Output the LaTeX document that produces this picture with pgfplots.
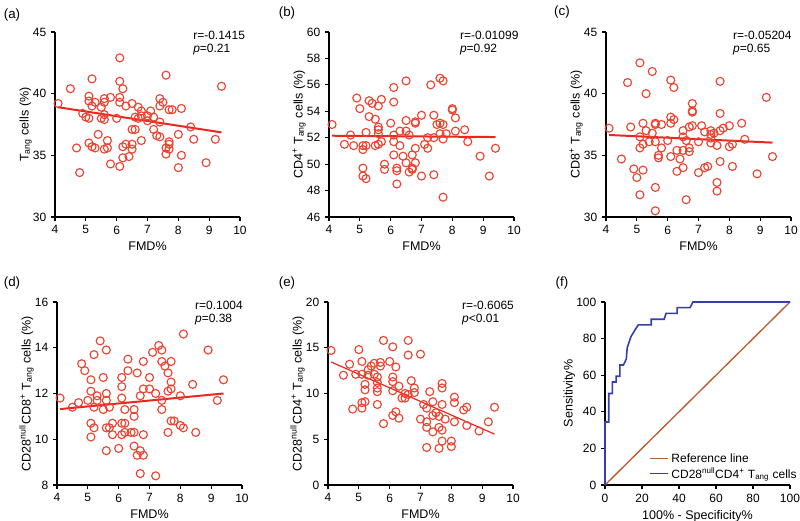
\documentclass[border=0pt]{standalone}
\usepackage{fontspec}
\setmainfont{Liberation Sans}
\usepackage{pgfplots}
\pgfplotsset{compat=1.18}

\definecolor{mred}{RGB}{238,66,48}
\definecolor{lred}{RGB}{232,40,32}
\definecolor{rocblue}{RGB}{52,62,172}
\definecolor{refbrown}{RGB}{184,92,48}

\pgfplotsset{
  panel/.style={
    scale only axis, width=138.75pt, height=138.75pt,
    axis x line*=bottom, axis y line*=left,
    axis line style={-, line width=0.9pt, black},
    every outer x axis line/.append style={-},
    every outer y axis line/.append style={-},
    tick align=outside, major tick length=3pt,
    tick style={line width=0.9pt, black},
    clip=false,
    /pgf/number format/assume math mode=true,
    ticklabel style={font=\fontsize{9}{10}\selectfont},
    label style={font=\fontsize{9.4}{11}\selectfont},
    ylabel style={yshift=-6pt},
    xlabel style={yshift=1pt},
  },
  fmd/.style={panel, xmin=4, xmax=10, xtick={4,...,10}, xlabel={FMD\%}},
  pts/.style={only marks, mark=o, mark size=3pt, mred, mark options={line width=0.85pt}},
  fit/.style={lred, line width=1.5pt},
}
\newcommand{\note}[2]{%
  \node[anchor=west, font=\fontsize{9}{10}\selectfont, inner sep=0pt] at (rel axis cs:#1,0.984) {r=#2};}
\newcommand{\pnote}[2]{%
  \node[anchor=west, font=\fontsize{9}{10}\selectfont, inner sep=0pt] at (rel axis cs:#1,0.905) {\itshape p\upshape #2};}

\begin{document}
\begin{tikzpicture}
\path[use as bounding box] (0pt,0pt) rectangle (600pt,390.75pt);

% (a)
\begin{axis}[fmd, at={(41.25pt,228pt)}, anchor=south west,
  ymin=30, ymax=45, ytick={30,35,40,45},
  ylabel={T\textsubscript{ang} cells (\%)}]
\addplot[pts] coordinates {
(4.1,39.2)(4.5,40.4)(4.7,35.6)(4.8,33.6)(4.9,38.4)(5.0,38.1)(5.1,39.8)(5.1,39.4)
(5.1,38.0)(5.1,36.0)(5.2,41.2)(5.2,39.0)(5.2,35.7)(5.3,39.3)(5.3,35.6)(5.4,36.7)
(5.5,38.9)(5.5,38.0)(5.6,39.6)(5.6,39.3)(5.6,38.3)(5.6,37.9)(5.6,35.5)(5.7,36.2)
(5.7,35.6)(5.8,39.7)(5.8,34.3)(6.0,38.0)(6.1,42.9)(6.1,41.0)(6.1,39.7)(6.1,39.3)
(6.1,34.1)(6.2,40.4)(6.2,35.7)(6.2,34.8)(6.3,39.0)(6.3,35.9)(6.4,34.9)(6.5,39.2)
(6.5,35.9)(6.5,35.5)(6.5,37.1)(6.6,38.1)(6.6,37.1)(6.7,38.9)(6.7,38.0)(6.8,38.6)
(6.8,38.2)(6.8,36.2)(7.0,38.2)(7.0,37.8)(7.1,38.6)(7.2,38.1)(7.2,37.1)(7.3,36.6)
(7.4,39.6)(7.4,39.0)(7.4,37.7)(7.4,36.5)(7.5,39.3)(7.6,41.5)(7.6,35.6)(7.6,35.1)
(7.7,38.7)(7.7,36.1)(7.7,35.9)(7.7,35.5)(7.8,38.7)(8.0,36.7)(8.0,34.0)(8.1,38.8)
(8.1,35.0)(8.4,37.3)(8.5,36.3)(8.9,34.4)(9.2,36.3)(9.4,40.6)};
\addplot[fit] coordinates {(4.1,38.9)(9.4,36.86)};
\note{0.746}{-0.1415}
\pnote{0.746}{=0.21}
\end{axis}

% (b)
\begin{axis}[fmd, at={(246.75pt,228pt)}, anchor=south west,
  ymin=46, ymax=60, ytick={46,48,...,60},
  ylabel={CD4\textsuperscript{+} T\textsubscript{ang} cells (\%)}]
\addplot[pts] coordinates {
(4.1,53.0)(4.5,51.5)(4.7,52.2)(4.8,51.4)(4.9,55.0)(5.0,54.2)(5.1,51.4)(5.1,51.1)
(5.1,49.7)(5.1,49.1)(5.2,52.4)(5.2,51.4)(5.2,48.9)(5.3,54.8)(5.3,53.6)(5.4,54.6)
(5.5,53.4)(5.5,51.4)(5.6,54.4)(5.6,52.8)(5.6,52.6)(5.6,52.3)(5.6,51.5)(5.7,54.9)
(5.7,51.7)(5.8,50.0)(5.8,49.6)(6.0,53.1)(6.1,55.8)(6.1,54.7)(6.1,52.2)(6.1,51.7)
(6.1,50.7)(6.2,49.7)(6.2,49.5)(6.2,48.5)(6.3,52.5)(6.3,51.4)(6.4,50.6)(6.5,56.3)
(6.5,53.3)(6.5,52.5)(6.5,50.1)(6.6,52.2)(6.6,49.4)(6.7,50.7)(6.7,49.7)(6.7,49.6)
(6.8,53.2)(6.8,53.1)(6.8,51.2)(6.8,50.1)(7.0,53.7)(7.0,49.1)(7.1,51.5)(7.2,52.0)
(7.2,51.2)(7.3,56.0)(7.4,53.7)(7.4,52.0)(7.4,49.2)(7.5,53.0)(7.6,56.5)(7.6,53.1)
(7.6,52.3)(7.7,56.3)(7.7,53.0)(7.7,51.9)(7.7,47.5)(7.8,52.3)(8.0,54.2)(8.0,54.1)
(8.1,53.5)(8.1,52.5)(8.4,52.6)(8.5,51.7)(8.9,50.6)(9.2,49.1)(9.4,51.2)};
\addplot[fit] coordinates {(4.1,52.15)(9.4,52.05)};
\note{0.707}{-0.01099}
\pnote{0.707}{=0.92}
\end{axis}

% (c)
\begin{axis}[fmd, at={(454.5pt,228pt)}, anchor=south west,
  ymin=30, ymax=45, ytick={30,35,40,45},
  ylabel={CD8\textsuperscript{+} T\textsubscript{ang} cells (\%)}]
\addplot[pts] coordinates {
(4.1,37.2)(4.5,34.7)(4.7,40.9)(4.8,37.3)(4.9,33.9)(5.0,33.2)(5.1,42.5)(5.1,36.5)
(5.1,35.6)(5.1,31.8)(5.2,37.6)(5.2,35.9)(5.2,33.8)(5.3,40.0)(5.3,37.0)(5.4,36.1)
(5.5,41.8)(5.5,36.8)(5.6,37.6)(5.6,37.5)(5.6,36.1)(5.6,32.4)(5.6,30.5)(5.7,35.0)
(5.7,34.8)(5.8,37.5)(5.8,35.6)(6.0,36.2)(6.1,41.1)(6.1,38.1)(6.1,37.6)(6.1,34.9)
(6.2,40.5)(6.2,37.9)(6.3,35.4)(6.3,33.7)(6.4,34.7)(6.5,37.0)(6.5,36.5)(6.5,35.4)
(6.5,34.0)(6.6,36.2)(6.6,31.4)(6.7,37.3)(6.7,35.6)(6.7,35.3)(6.8,39.2)(6.8,38.6)
(6.8,38.5)(6.8,37.4)(7.0,36.1)(7.0,33.6)(7.1,37.4)(7.2,36.9)(7.2,34.0)(7.3,34.1)
(7.4,37.0)(7.4,36.7)(7.4,36.4)(7.4,36.0)(7.5,36.8)(7.6,35.8)(7.6,32.8)(7.6,32.1)
(7.7,41.0)(7.7,38.4)(7.7,37.0)(7.7,34.5)(7.8,37.2)(8.0,37.4)(8.0,35.7)(8.1,35.9)
(8.1,34.1)(8.4,37.6)(8.5,36.3)(8.9,33.5)(9.2,39.7)(9.4,34.9)};
\addplot[fit] coordinates {(4.1,36.65)(9.4,36.03)};
\note{0.686}{-0.05204}
\pnote{0.686}{=0.65}
\end{axis}

% (d)
\begin{axis}[fmd, at={(42.75pt,27pt)}, anchor=south west, height=137.25pt,
  ymin=8, ymax=16, ytick={8,10,...,16},
  ylabel={CD28\textsuperscript{null}CD8\textsuperscript{+} T\textsubscript{ang} cells (\%)}]
\addplot[pts] coordinates {
(4.1,11.8)(4.5,11.4)(4.7,11.6)(4.8,13.3)(4.9,13.0)(5.0,11.7)(5.1,12.6)(5.1,12.1)
(5.1,10.7)(5.1,10.1)(5.2,13.7)(5.2,11.4)(5.2,10.5)(5.3,11.9)(5.3,11.7)(5.4,14.3)
(5.5,12.7)(5.5,11.3)(5.6,13.9)(5.6,12.0)(5.6,11.7)(5.6,10.5)(5.6,9.5)(5.7,11.4)
(5.7,10.5)(5.8,10.7)(5.8,10.2)(6.0,9.6)(6.1,12.7)(6.1,12.3)(6.1,11.8)(6.1,10.7)
(6.1,10.2)(6.2,11.3)(6.2,10.7)(6.2,10.3)(6.3,13.5)(6.3,13.0)(6.4,10.3)(6.5,11.3)
(6.5,11.0)(6.5,10.3)(6.5,9.7)(6.6,12.9)(6.6,9.3)(6.7,11.9)(6.7,9.5)(6.7,8.5)
(6.8,13.4)(6.8,12.2)(6.8,10.2)(6.8,9.3)(7.0,12.7)(7.0,12.2)(7.1,13.8)(7.2,12.0)
(7.2,8.4)(7.3,14.1)(7.4,13.9)(7.4,13.4)(7.4,11.7)(7.4,11.3)(7.5,13.2)(7.6,12.9)
(7.6,12.1)(7.6,10.3)(7.7,13.4)(7.7,12.5)(7.7,12.2)(7.7,10.8)(7.8,10.8)(8.0,11.9)
(8.0,10.6)(8.1,14.6)(8.1,10.5)(8.4,12.4)(8.5,10.3)(8.9,13.9)(9.2,11.7)(9.4,12.6)};
\addplot[fit] coordinates {(4.1,11.32)(9.4,12.0)};
\note{0.745}{0.1004}
\pnote{0.745}{=0.38}
\end{axis}

% (e)
\begin{axis}[fmd, at={(246pt,27pt)}, anchor=south west, height=137.25pt,
  ymin=0, ymax=20, ytick={0,5,...,20},
  ylabel={CD28\textsuperscript{null}CD4\textsuperscript{+} T\textsubscript{ang} cells (\%)}]
\addplot[pts] coordinates {
(4.1,14.7)(4.5,12.0)(4.7,13.2)(4.8,8.3)(4.9,12.1)(5.0,14.8)(5.1,13.5)(5.1,12.1)
(5.1,9.0)(5.1,8.4)(5.2,11.0)(5.2,10.4)(5.2,9.1)(5.3,12.0)(5.3,12.6)(5.4,13.0)
(5.5,13.3)(5.5,12.1)(5.6,11.8)(5.6,11.2)(5.6,10.6)(5.6,10.2)(5.6,8.8)(5.7,13.4)
(5.7,13.0)(5.8,15.8)(5.8,6.7)(6.0,13.5)(6.1,15.1)(6.1,11.8)(6.1,11.3)(6.1,10.3)
(6.1,7.6)(6.2,12.9)(6.2,8.0)(6.3,10.8)(6.3,7.3)(6.4,9.5)(6.5,10.0)(6.5,9.5)
(6.6,15.8)(6.6,14.2)(6.6,9.9)(6.7,11.4)(6.8,10.6)(6.8,10.1)(7.0,14.3)(7.0,7.2)
(7.1,8.8)(7.2,8.4)(7.2,6.9)(7.2,6.3)(7.2,4.1)(7.3,10.2)(7.4,9.1)(7.4,7.6)
(7.4,5.8)(7.5,7.9)(7.6,6.3)(7.6,4.0)(7.6,7.5)(7.7,11.1)(7.7,10.6)(7.7,8.8)
(7.7,6.0)(7.7,4.8)(7.8,7.2)(8.0,4.8)(8.0,4.2)(8.1,9.6)(8.1,9.0)(8.1,6.9)
(8.4,8.2)(8.5,8.5)(8.5,6.5)(8.9,5.9)(9.2,6.9)(9.4,8.5)};
\addplot[lred, line width=0.9pt] coordinates {(4.1,13.45)(9.4,5.56)};
\note{0.724}{-0.6065}
\pnote{0.724}{\textless0.01}
\end{axis}

% (f)
\begin{axis}[panel, at={(453.75pt,27pt)}, anchor=south west, height=137.25pt,
  xmin=0, xmax=100, xtick={0,20,...,100},
  ymin=0, ymax=100, ytick={0,20,...,100},
  xlabel={100\% - Specificity\%}, ylabel={Sensitivity\%},
  legend style={draw=none, fill=none, at={(rel axis cs:0.215,-0.005)}, anchor=south west,
    font=\fontsize{9}{10}\selectfont, row sep=-1.5pt},
  legend image code/.code={\draw[#1, line width=0.8pt] (0pt,0pt) -- (14pt,0pt);},
  legend cell align=left]
\addplot[refbrown, line width=1pt] coordinates {(0,0)(100,100)};
\addlegendentry{Reference line}
\addplot[rocblue, line width=1.2pt] coordinates {
(0,0)(0,34.4)(2,34.4)(2,50)(4,50)(4,56.3)(6,56.3)(6,59.4)(8,59.4)(8,65.6)
(10,65.6)(11.5,68.8)(12,75)(13,78)(14,81)(16,84.4)(18,87.5)(25,87.5)(25,90.6)
(32,90.6)(33,93.8)(39,93.8)(39,96.9)(46,96.9)(47.5,100)(100,100)};
\addlegendentry{CD28\textsuperscript{null}CD4\textsuperscript{+} T\textsubscript{ang} cells}
\end{axis}

\node[font=\fontsize{10}{12}\selectfont] at (9pt,379.5pt) {(a)};
\node[font=\fontsize{10}{12}\selectfont] at (215.25pt,381pt) {(b)};
\node[font=\fontsize{10}{12}\selectfont] at (421.5pt,381.75pt) {(c)};
\node[font=\fontsize{10}{12}\selectfont] at (9pt,178.5pt) {(d)};
\node[font=\fontsize{10}{12}\selectfont] at (215.25pt,178.5pt) {(e)};
\node[font=\fontsize{10}{12}\selectfont] at (421.5pt,178.5pt) {(f)};
\end{tikzpicture}
\end{document}
